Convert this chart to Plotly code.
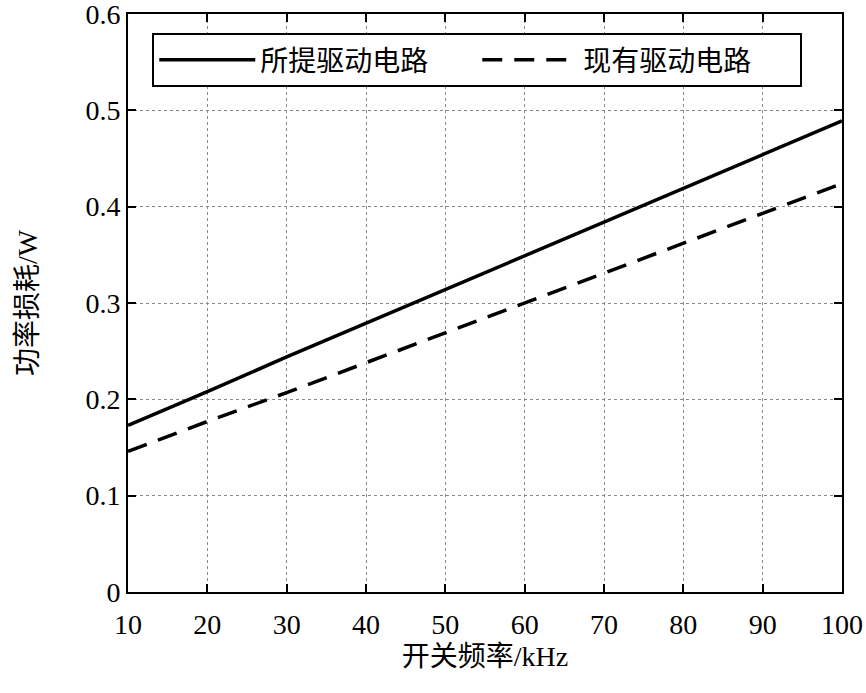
import plotly.graph_objects as go

freq_khz = [10, 20, 30, 40, 50, 60, 70, 80, 90, 100]
proposed_w = [0.173, 0.208, 0.244, 0.279, 0.314, 0.349, 0.384, 0.419, 0.454, 0.489]
existing_w = [0.146, 0.177, 0.207, 0.238, 0.269, 0.300, 0.331, 0.362, 0.393, 0.424]
series_names = ["所提驱动电路", "现有驱动电路"]
x_ticks = [10, 20, 30, 40, 50, 60, 70, 80, 90, 100]
y_ticks = [0, 0.1, 0.2, 0.3, 0.4, 0.5, 0.6]
y_ticklabels = ["0", "0.1", "0.2", "0.3", "0.4", "0.5", "0.6"]
x_title = "开关频率/kHz"
y_title = "功率损耗/W"

FONT = "Liberation Serif, Times New Roman, Noto Sans CJK SC, serif"
FS = 28

fig = go.Figure()
fig.add_trace(go.Scatter(x=freq_khz, y=proposed_w, mode="lines", name=series_names[0],
                         line=dict(color="black", width=3.5, dash="solid")))
fig.add_trace(go.Scatter(x=freq_khz, y=existing_w, mode="lines", name=series_names[1],
                         line=dict(color="black", width=3.5, dash="20px,12px")))

axis_common = dict(
    showline=True, linecolor="black", linewidth=2, mirror="ticks",
    ticks="inside", ticklen=8, tickwidth=1.5, tickcolor="black",
    showgrid=True, gridcolor="#888888", griddash="dot", gridwidth=1.2,
    zeroline=False, tickfont=dict(family=FONT, size=FS, color="black"),
    ticklabeloverflow="allow", automargin=False,
)

fig.update_xaxes(range=[10, 100], tickvals=x_ticks, ticklabelstandoff=6,
                 title=dict(text=x_title, font=dict(family=FONT, size=FS, color="black"), standoff=8),
                 **axis_common)
fig.update_yaxes(range=[0, 0.6], tickvals=y_ticks, ticktext=y_ticklabels,
                 title=dict(text=y_title, font=dict(family=FONT, size=FS, color="black"), standoff=40),
                 **axis_common)

fig.update_layout(
    width=866, height=693,
    margin=dict(l=128, r=24, t=14, b=101, autoexpand=False),
    paper_bgcolor="white", plot_bgcolor="white",
    showlegend=True,
    legend=dict(orientation="h", x=0.034, y=0.967, xanchor="left", yanchor="top",
                bordercolor="black", borderwidth=2, bgcolor="white",
                font=dict(family=FONT, size=FS, color="black"),
                entrywidth=212, entrywidthmode="pixels", itemwidth=96),
)

fig.write_html("out.html")
